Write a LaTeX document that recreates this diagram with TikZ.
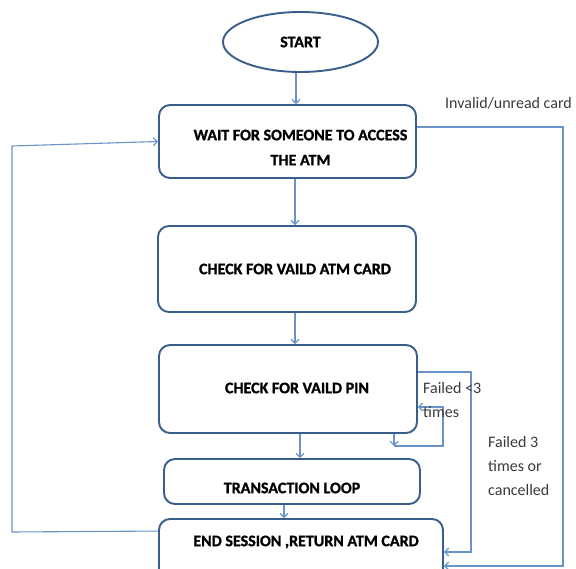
\documentclass[tikz,border=0pt]{standalone}
\usepackage{fontspec}
\setmainfont{Carlito}[BoldFeatures={FakeBold=1.2}]
\usetikzlibrary{arrows.meta,shapes.geometric,calc}
\definecolor{edgeblue}{HTML}{3A5E8C}
\definecolor{linkblue}{HTML}{6A93C8}
\definecolor{labelgray}{HTML}{3A3A3A}
\begin{document}
\begin{tikzpicture}[x=1pt,y=-1pt,
  box/.style={draw=edgeblue, line width=1.9pt, rounded corners=11pt, fill=white, inner sep=0pt},
  boxtext/.style={font=\fontsize{16}{25}\selectfont\bfseries, align=center, text=black, inner sep=0pt},
  note/.style={font=\fontsize{16}{24}\selectfont, text=labelgray, align=left, anchor=west, inner sep=0pt},
  conn/.style={draw=linkblue, line width=1.1pt},
  arr/.style={conn, -{Straight Barb[length=4pt,width=8pt]}}]
\useasboundingbox (0,0) rectangle (576,569);
\clip (0,0) rectangle (576,569);

% process boxes
\node[draw=edgeblue, line width=1.9pt, ellipse, minimum width=155pt, minimum height=60pt, inner sep=0pt] (start) at (300.5,42) {};
\node[box, minimum width=257pt, minimum height=73pt] (wait)  at (287.5,141.5) {};
\node[box, minimum width=258pt, minimum height=86pt] (check) at (287,269) {};
\node[box, minimum width=258pt, minimum height=88pt] (pin)   at (288,389) {};
\node[box, minimum width=256pt, minimum height=45pt] (trans) at (292,481.5) {};
\node[box, minimum width=284pt, minimum height=81pt] (endb)  at (301,559.5) {};

% box captions
\node[boxtext] (startT) at (start.center) {START};
\node[boxtext] (waitT)  at ([xshift=13pt,yshift=-6pt]wait.center) {WAIT FOR SOMEONE TO ACCESS\\THE ATM};
\node[boxtext] (checkT) at ([xshift=8pt]check.center) {CHECK FOR VAILD ATM CARD};
\node[boxtext] (pinT)   at ([xshift=9pt,yshift=1pt]pin.center) {CHECK FOR VAILD PIN};
\node[boxtext] (transT) at ([yshift=-6.5pt]trans.center) {TRANSACTION LOOP};
\node[boxtext] (endT)   at ([xshift=5pt,yshift=17.5pt]endb.center) {END SESSION ,RETURN ATM CARD};

% main flow
\draw[arr] ([xshift=-4.5pt]start.south) -- ([xshift=-4.5pt]start.south |- wait.north);
\draw[arr] ([xshift=7.5pt]wait.south) -- ([xshift=8pt]check.north);
\draw[arr] ([xshift=8pt]check.south) -- ([xshift=7pt]pin.north);
\draw[arr] ([xshift=12pt]pin.south) -- ([xshift=12pt]pin.south |- trans.north);
\draw[arr] ([xshift=-8pt]trans.south) -- ([xshift=-8pt]trans.south |- endb.north);

% return to waiting after the session ends
\coordinate (lb) at (12,532);
\coordinate (lt) at (12,146);
\draw[arr] ([yshift=-13pt]endb.north west) -- (lb) -- (lt) -- (wait.west);

% invalid or unreadable card
\coordinate (ia) at (563,127);
\coordinate (ib) at (563,566);
\draw[arr] ([yshift=14.5pt]wait.east) -- (ia) -- (ib) -- (ib -| endb.east);

% three failed attempts or cancel
\coordinate (fa) at (471,372);
\coordinate (fb) at (471,552);
\draw[arr] ([yshift=17pt]pin.east) -- (fa) -- (fb) -- (fb -| endb.east);

% retry the PIN
\coordinate (ra) at (394,446);
\coordinate (rb) at (443,407);
\draw[arr] (ra |- pin.south) -- (ra);
\draw[arr] (ra) -| (rb) -- (rb -| pin.east);

% connector labels
\node[note] (invL) at (445,103) {Invalid/unread card};
\node[note] (retryL) at (423,400.5) {Failed <3\\times};
\node[note] (failL) at (488,466) {Failed 3\\times or\\cancelled};
\end{tikzpicture}
\end{document}
